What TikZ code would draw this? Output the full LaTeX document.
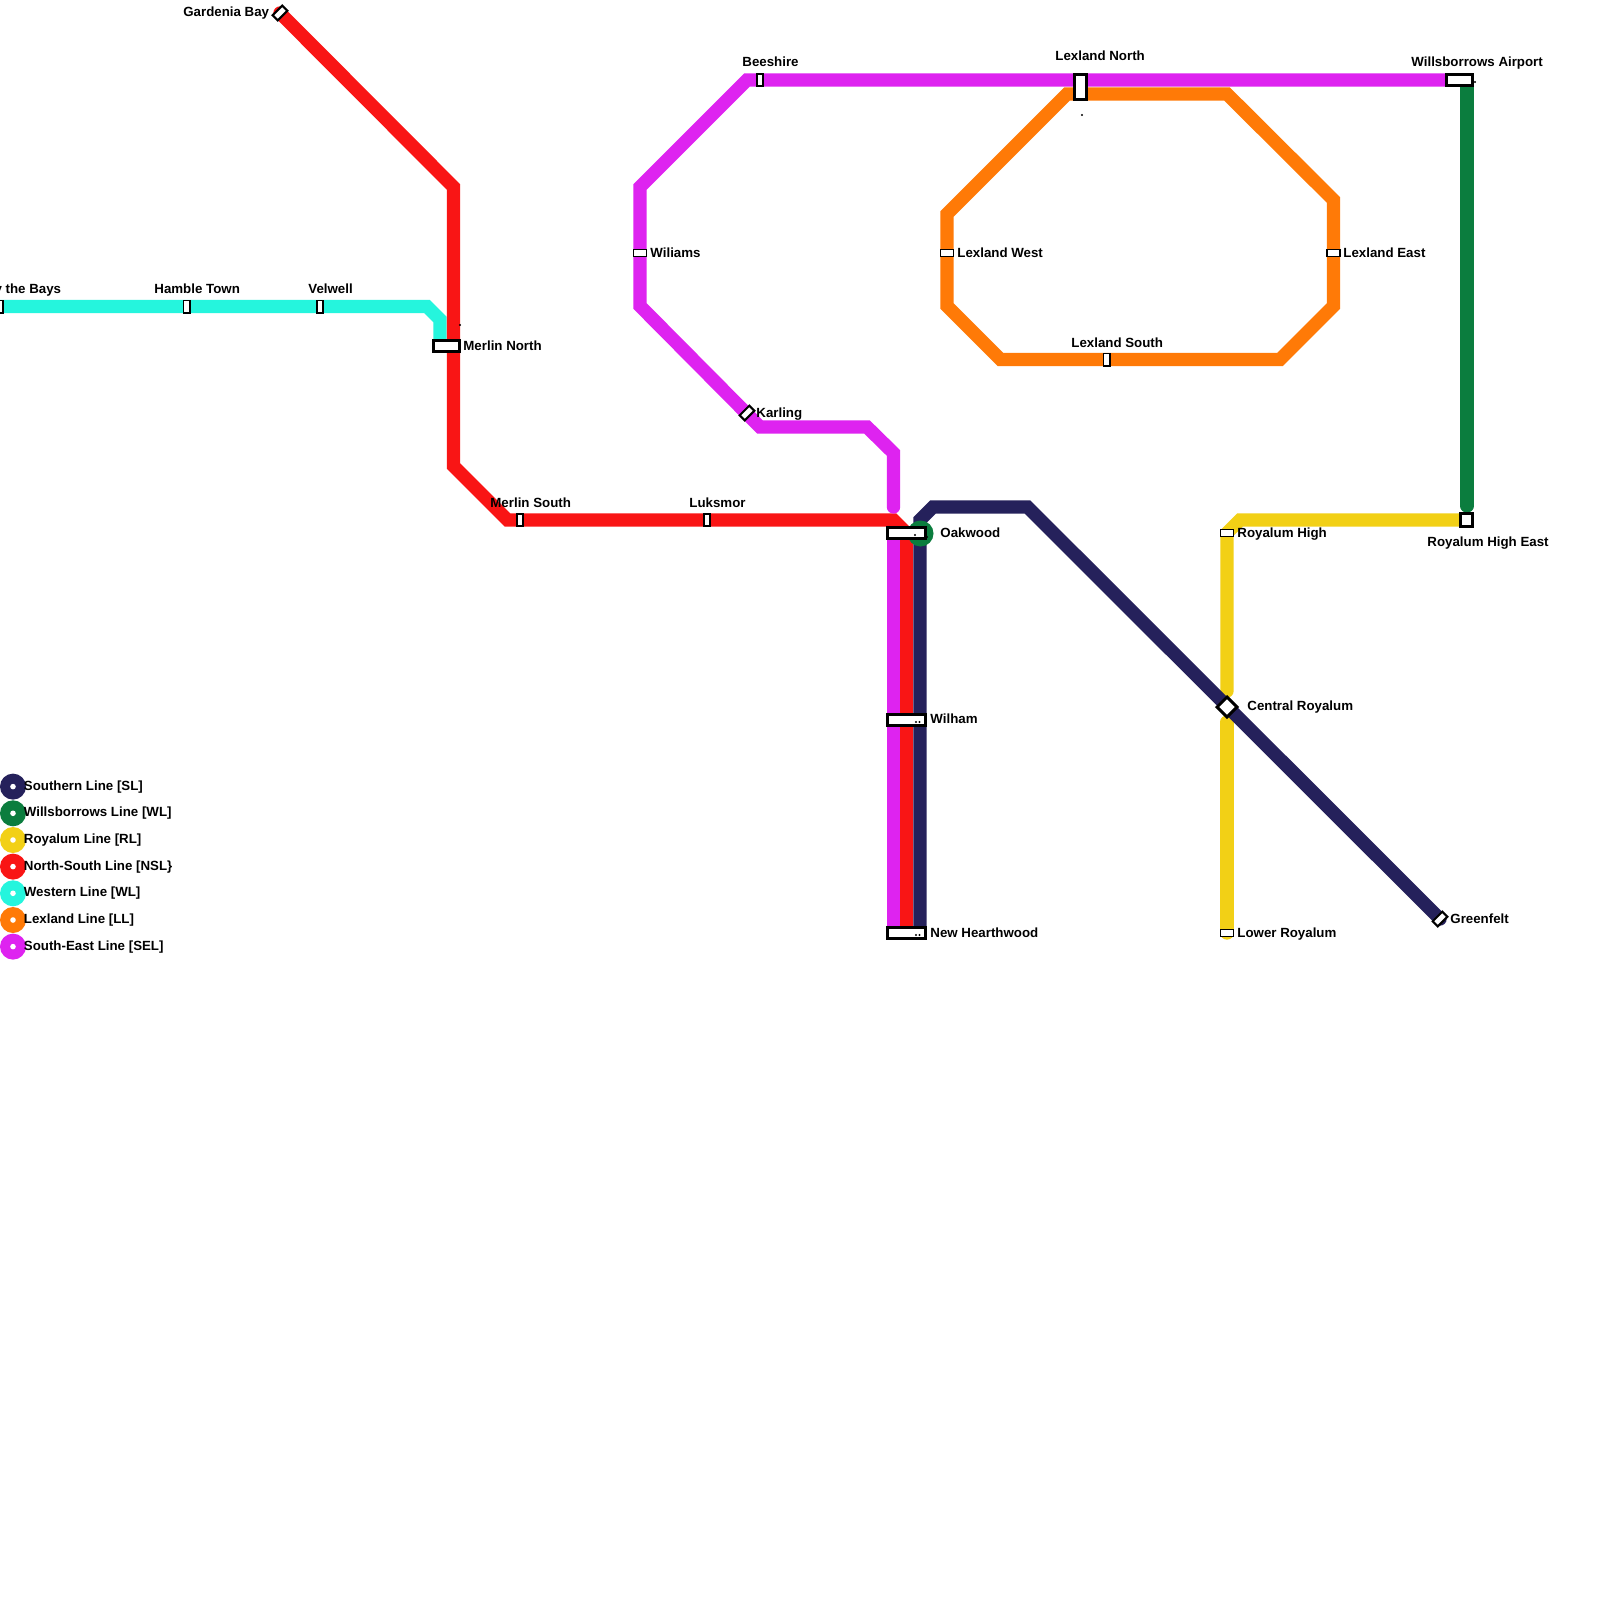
\documentclass[tikz,border=0pt]{standalone}
\usepackage{fontspec}
\setmainfont{Liberation Sans}
\definecolor{cnavy}{HTML}{25215B}
\definecolor{cgreen}{HTML}{0B7D3E}
\definecolor{cyellow}{HTML}{F2D016}
\definecolor{cred}{HTML}{F91515}
\definecolor{ccyan}{HTML}{25F5DD}
\definecolor{corange}{HTML}{FF7A07}
\definecolor{cpurple}{HTML}{DE23F0}
\tikzset{
  metro/.style={line width=6.67pt,line cap=round,line join=miter},
  lab/.style={inner sep=0pt,font=\fontsize{6.65}{8}\selectfont\bfseries,text=black},
  labw/.style={lab,anchor=base west},
  labe/.style={lab,anchor=base east},
  stasmall/.style={draw=black,fill=white,line width=0.8pt,inner sep=0pt,minimum width=6.4pt,minimum height=3.4pt},
  stavert/.style={stasmall,minimum width=3.2pt,minimum height=6.2pt},
  stadiag/.style={stasmall,line width=1pt,minimum width=6.8pt,minimum height=3.6pt,rotate=45},
  stabig/.style={draw=black,fill=white,line width=1.5pt,inner sep=0pt},
  legdisc/.style={circle,inner sep=0pt,minimum size=13pt},
  legdot/.style={circle,fill=white,inner sep=0pt,minimum size=2.8pt},
  tinydot/.style={circle,fill=black,inner sep=0pt,minimum size=1.1pt},
}
\begin{document}
\begin{tikzpicture}[x=0.5pt,y=-0.5pt]
\useasboundingbox (0,0) rectangle (1600,1600);
\fill[white] (0,0) rectangle (1600,1600);
\clip (0,0) rectangle (1600,1600);

% route coordinates
\coordinate (ry1) at (1467,520); \coordinate (ry2) at (1240,520); \coordinate (ry3) at (1227,533);
\coordinate (ry4) at (1227,691); \coordinate (ry5) at (1227,722); \coordinate (ry6) at (1227,933);
\coordinate (cy0) at (-10,306.5); \coordinate (cy1) at (427,306.5); \coordinate (cy2) at (440,319.5); \coordinate (cy3) at (440,345);
\coordinate (re0) at (280,13); \coordinate (re1) at (453.5,187); \coordinate (re2) at (453.5,466);
\coordinate (re3) at (507.5,520); \coordinate (re4) at (893.5,520); \coordinate (re5) at (906.5,533); \coordinate (re6) at (906.5,933);
\coordinate (or1) at (1080,94); \coordinate (or2) at (1067,94); \coordinate (or3) at (947,214); \coordinate (or4) at (947,306);
\coordinate (or5) at (1000.5,359.5); \coordinate (or6) at (1280,359.5); \coordinate (or7) at (1333.5,306);
\coordinate (or8) at (1333.5,200); \coordinate (or9) at (1227,94);
\coordinate (pu0) at (1460,80); \coordinate (pu1) at (747,80); \coordinate (pu2) at (640,187); \coordinate (pu3) at (640,306);
\coordinate (pu4) at (760,427); \coordinate (pu5) at (867,427); \coordinate (pu6) at (893.5,453); \coordinate (pu7) at (893.5,507);
\coordinate (pu8) at (893.5,533); \coordinate (pu9) at (893.5,933);
\coordinate (na0) at (920,933); \coordinate (na1) at (920,520); \coordinate (na2) at (933,507); \coordinate (na3) at (1027.5,507); \coordinate (na4) at (1440,919);
\coordinate (gr0) at (1467,86); \coordinate (gr1) at (1467,506);

% lines
\draw[metro,cyellow] (ry1) -- (ry2) -- (ry3) -- (ry4);
\draw[metro,cyellow] (ry5) -- (ry6);
\draw[metro,ccyan] (cy0) -- (cy1) -- (cy2) -- (cy3);
\draw[metro,cred] (re0) -- (re1) -- (re2) -- (re3) -- (re4) -- (re5) -- (re6);
\draw[metro,corange] (or1) -- (or2) -- (or3) -- (or4) -- (or5) -- (or6) -- (or7) -- (or8) -- (or9) -- cycle;
\draw[metro,cpurple] (pu0) -- (pu1) -- (pu2) -- (pu3) -- (pu4) -- (pu5) -- (pu6) -- (pu7);
\draw[metro,cpurple] (pu8) -- (pu9);
\draw[metro,cnavy] (na0) -- (na1) -- (na2) -- (na3) -- (na4);
\draw[metro,cgreen] (gr0) -- (gr1);

% Oakwood interchange disc
\node[circle,fill=cgreen,inner sep=0pt,minimum size=13pt] (oakdisc) at (920.5,533.5) {};

% small stations
\node[stavert] (sBays) at (0,306.5) {};
\node[stavert] (sHamble) at (186.5,306.5) {};
\node[stavert] (sVelwell) at (320,306.5) {};
\node[stavert] (sBeeshire) at (760,80) {};
\node[stavert] (sMerlinS) at (520,520) {};
\node[stavert] (sLuksmor) at (707,520) {};
\node[stavert] (sLexS) at (1106.5,359.5) {};
\node[stasmall] (sWiliams) at (640,253) {};
\node[stasmall] (sLexW) at (947,253) {};
\node[stasmall] (sLexE) at (1333.5,253) {};
\node[stasmall] (sRoyH) at (1227,533) {};
\node[stasmall] (sLowR) at (1227,933) {};
\node[stadiag] (sGarden) at (280,13) {};
\node[stadiag] (sKarling) at (747,413) {};
\node[stadiag] (sGreen) at (1440,919) {};

% big stations
\node[stabig,minimum width=12.9pt,minimum height=5.8pt] (sMerlinN) at (446.7,346) {};
\node[stabig,minimum width=6.2pt,minimum height=12.8pt] (sLexN) at (1080.3,87) {};
\node[stabig,minimum width=12.9pt,minimum height=5.8pt] (sAirport) at (1459.7,80) {};
\node[stabig,minimum width=19.3pt,minimum height=5.8pt] (sOak) at (906.3,533) {};
\node[stabig,minimum width=19.3pt,minimum height=5.8pt] (sWil) at (906.3,720) {};
\node[stabig,minimum width=19.3pt,minimum height=5.8pt] (sNew) at (906.3,933) {};
\node[stabig,minimum width=6.2pt,minimum height=6.2pt] (sRoyE) at (1466.5,520) {};
\node[stabig,minimum width=7pt,minimum height=7pt,rotate=45] (sCentral) at (1227,707) {};

% tiny marks
\node[tinydot] (d1) at (460,325) {};
\node[tinydot] (d2) at (1082,115) {};
\node[tinydot] (d3) at (1475,82) {};
\node[tinydot] (d4) at (915,535) {};
\node[tinydot] (d5) at (927,537) {};
\node[tinydot] (d6) at (916,722) {};
\node[tinydot] (d7) at (919.5,722) {};
\node[tinydot] (d8) at (916,935) {};
\node[tinydot] (d9) at (919.5,935) {};

% labels
\node[labe] (tGarden) at (269.5,16.5) {Gardenia Bay};
\node[labw] (tBeeshire) at (742,66.5) {Beeshire};
\node[labw] (tLexN) at (1055,60.5) {Lexland North};
\node[labw] (tAirport) at (1411,66.5) {Willsborrows Airport};
\node[labw] (tWiliams) at (650,257) {Wiliams};
\node[labw] (tLexW) at (957,257) {Lexland West};
\node[labw] (tLexE) at (1343,257) {Lexland East};
\node[labw] (tLexS) at (1071,347) {Lexland South};
\node[labw] (tKarling) at (756,417) {Karling};
\node[labw] (tMerlinN) at (463,350.5) {Merlin North};
\node[labw] (tMerlinS) at (490,507) {Merlin South};
\node[labw] (tLuksmor) at (689,507) {Luksmor};
\node[labe] (tBays) at (61.5,293.5) {y the Bays};
\node[labw] (tHamble) at (154,293.5) {Hamble Town};
\node[labw] (tVelwell) at (308,293.5) {Velwell};
\node[labw] (tOak) at (940,537) {Oakwood};
\node[labw] (tWil) at (930,723.5) {Wilham};
\node[labw] (tNew) at (930,937) {New Hearthwood};
\node[labw] (tRoyH) at (1237,537) {Royalum High};
\node[labw] (tRoyE) at (1427,546.5) {Royalum High East};
\node[labw] (tCentral) at (1247,710) {Central Royalum};
\node[labw] (tLowR) at (1237,937) {Lower Royalum};
\node[labw] (tGreen) at (1450,923.5) {Greenfelt};

% legend
\foreach \n/\yy/\cc/\tt in {a/786.6/cnavy/Southern Line [SL],b/813.3/cgreen/Willsborrows Line [WL],c/840/cyellow/Royalum Line [RL],d/866.6/cred/North-South Line [NSL\},e/893.3/ccyan/Western Line [WL],f/920/corange/Lexland Line [LL],g/946.6/cpurple/South-East Line [SEL]}{
  \node[legdisc,fill=\cc] (disc\n) at (13,\yy) {};
  \node[legdot] (dot\n) at (13,\yy) {};
  \node[lab,anchor=base west] (leg\n) at (23.5,\yy+3.6) {\tt};
}
\end{tikzpicture}
\end{document}
